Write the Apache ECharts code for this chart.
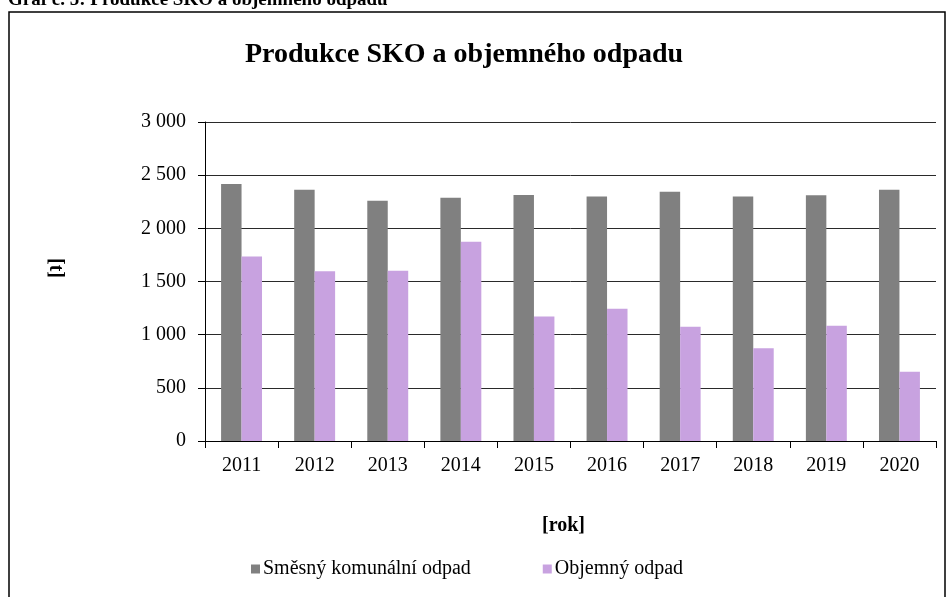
<!DOCTYPE html>
<html>
<head>
<meta charset="utf-8">
<script src="https://cdn.jsdelivr.net/npm/echarts@6/dist/echarts.min.js"></script>
<style>
  html, body { margin: 0; padding: 0; background: #fff; }
  #chart { width: 949px; height: 597px; }
</style>
</head>
<body>
<div id="chart"></div>
<script>
// data (tonnes per year)
var years = ['2011', '2012', '2013', '2014', '2015', '2016', '2017', '2018', '2019', '2020']
var smesny = [2416, 2363, 2260, 2288, 2313, 2300, 2345, 2300, 2310, 2363]
var objemny = [1735, 1597, 1601, 1874, 1170, 1243, 1075, 872, 1083, 652]
var seriesNames = ['Směsný komunální odpad', 'Objemný odpad']

var serif = '"Liberation Serif", "DejaVu Serif", serif'

function fmt (v) {
  return String(v).replace(/\B(?=(\d{3})+(?!\d))/g, ' ')
}

var myChart = echarts.init(document.getElementById('chart'))

myChart.setOption({
  animation: false,
  textStyle: { fontFamily: serif },
  graphic: [
    {
      type: 'rect',
      shape: { x: 9, y: 12, width: 936, height: 600 },
      style: { fill: 'none', stroke: '#000', lineWidth: 1.5 }
    },
    {
      type: 'text',
      left: 8,
      top: -9,
      style: {
        text: 'Graf č. 5: Produkce SKO a objemného odpadu',
        font: 'bold 19px ' + serif,
        fill: '#000'
      }
    },
    {
      type: 'text',
      x: 464,
      y: 55,
      style: {
        text: 'Produkce SKO a objemného odpadu',
        font: 'bold 28px ' + serif,
        fill: '#000',
        align: 'center',
        verticalAlign: 'middle'
      }
    },
    {
      type: 'text',
      x: 55,
      y: 268,
      rotation: -Math.PI / 2,
      style: {
        text: '[t]',
        font: 'bold 20px ' + serif,
        fill: '#000',
        align: 'center',
        verticalAlign: 'middle'
      }
    }
  ],
  legend: {
    data: seriesNames,
    left: 246,
    top: 554,
    itemWidth: 9,
    itemHeight: 9,
    itemGap: 72,
    icon: 'rect',
    textStyle: { fontFamily: serif, fontSize: 20, color: '#000', padding: [0, 0, 0, -2] }
  },
  grid: {
    left: 205,
    right: 13,
    top: 122,
    bottom: 156,
    containLabel: false
  },
  xAxis: {
    type: 'category',
    data: years,
    name: '[rok]',
    nameLocation: 'middle',
    nameGap: 75,
    nameTextStyle: { fontFamily: serif, fontSize: 20, fontWeight: 'bold', color: '#000', padding: [0, 14, 0, 0] },
    axisLine: { lineStyle: { color: '#000', width: 1 } },
    axisTick: { show: true, length: 7, alignWithLabel: false, lineStyle: { color: '#000' } },
    axisLabel: { fontFamily: serif, fontSize: 20, color: '#000', margin: 15 }
  },
  yAxis: {
    type: 'value',
    min: 0,
    max: 3000,
    interval: 500,
    axisLine: { show: true, lineStyle: { color: '#000', width: 1 } },
    axisTick: { show: true, length: 7, lineStyle: { color: '#000' } },
    axisLabel: { fontFamily: serif, fontSize: 20, color: '#000', margin: 19, formatter: fmt },
    splitLine: { lineStyle: { color: '#2a2a2a', width: 1 } }
  },
  series: [
    {
      name: seriesNames[0],
      type: 'bar',
      data: smesny,
      itemStyle: { color: '#808080' },
      barGap: '0%',
      barCategoryGap: '44%'
    },
    {
      name: seriesNames[1],
      type: 'bar',
      data: objemny,
      itemStyle: { color: '#c8a2e0' },
      barGap: '0%',
      barCategoryGap: '44%'
    }
  ]
})
</script>
</body>
</html>
